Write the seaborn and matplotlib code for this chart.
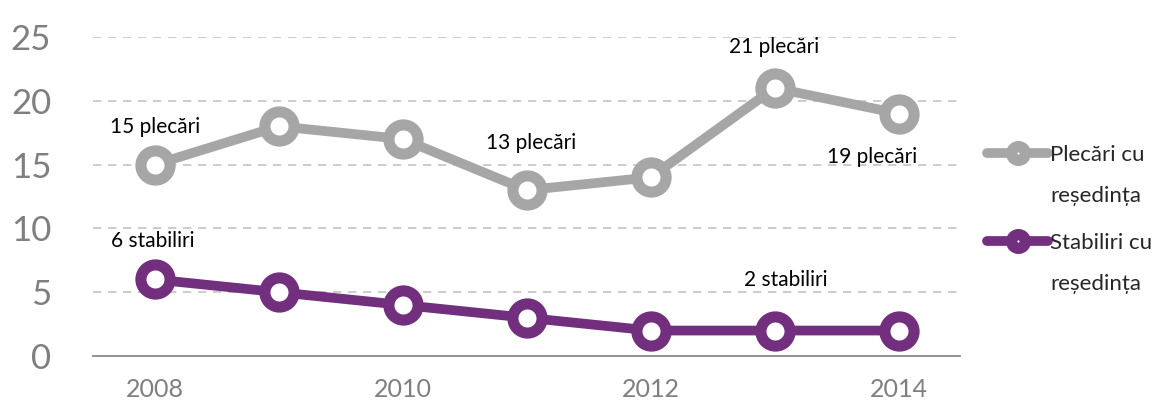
import matplotlib
matplotlib.use("Agg")
from matplotlib import pyplot as plt
from matplotlib.lines import Line2D
import pandas as pd
import seaborn as sb

years = [2008, 2009, 2010, 2011, 2012, 2013, 2014]
plecari = [15, 18, 17, 13, 14, 21, 19]
stabiliri = [6, 5, 4, 3, 2, 2, 2]
series_names = ["Plecări cu\nreședința", "Stabiliri cu\nreședința"]
colors = ["#a6a6a6", "#722f7e"]

# (series index, year, text, offset in pixels)
labels = [
    (0, 2008, "15 plecări", (0, 38)),
    (0, 2011, "13 plecări", (4, 47)),
    (0, 2013, "21 plecări", (0, 41)),
    (0, 2014, "19 plecări", (-26, -43)),
    (1, 2008, "6 stabiliri", (-2, 38)),
    (1, 2013, "2 stabiliri", (11, 51)),
]

sb.set_style("white")
plt.rcParams["font.family"] = ["Lato", "DejaVu Sans"]

data = pd.DataFrame({"year": years * 2,
                     "value": plecari + stabiliri,
                     "series": [series_names[0]] * 7 + [series_names[1]] * 7})

fig = plt.figure(figsize=(11.6, 4.15), dpi=100)
ax = fig.add_axes([0.080, 0.142, 0.748, 0.769])

sb.lineplot(data=data, x="year", y="value", hue="series", palette=colors,
            linewidth=7, marker="o", ax=ax, legend=False, clip_on=False, zorder=3)
# seaborn sets its own marker look, so fix it afterwards
for line, c in zip(ax.lines, colors):
    line.set_markersize(21)
    line.set_markeredgewidth(8)
    line.set_markeredgecolor(c)
    line.set_markerfacecolor("white")

ax.set_xlim(2007.5, 2014.5)
ax.set_ylim(0, 25)
ax.set_yticks([0, 5, 10, 15, 20, 25])
ax.set_xticks([2008, 2010, 2012, 2014])
ax.set_xlabel("")
ax.set_ylabel("")
ax.tick_params(axis="y", labelsize=25, colors="#7f7f7f", length=0, pad=30)
ax.tick_params(axis="x", labelsize=18, colors="#7f7f7f", length=0, pad=16)

for y in [5, 10, 15, 20, 25]:
    ax.axhline(y, color="#c4c4c4", lw=1.2, ls=(0, (5, 4)), zorder=1)
for s in ["top", "left", "right"]:
    ax.spines[s].set_visible(False)
ax.spines["bottom"].set_color("#888888")
ax.spines["bottom"].set_linewidth(1.3)

vals = [plecari, stabiliri]
for si, yr, txt, off in labels:
    ax.annotate(txt, (yr, vals[si][years.index(yr)]), xytext=off,
                textcoords="offset pixels", ha="center", va="center",
                fontsize=15, color="black")

# legend: handle sits next to the first line of each label, second line below
handles = [Line2D([], [], color=c, lw=7, marker="o", markersize=10,
                  markeredgewidth=8, markerfacecolor="white", markeredgecolor=c)
           for c in colors]
first_lines = [n.split("\n")[0] for n in series_names]
leg = fig.legend(handles, first_lines, loc="upper left", bbox_to_anchor=(0.851, 0.65),
                 frameon=False, fontsize=16, handlelength=2.75, handletextpad=0.1,
                 labelspacing=3.05, borderaxespad=0, borderpad=0)
fig.canvas.draw()
inv = fig.transFigure.inverted()
for t, n in zip(leg.get_texts(), series_names):
    bb = t.get_window_extent()
    x0, y0 = inv.transform((bb.x0, bb.y0))
    fig.text(x0, y0 - 0.05, n.split("\n")[1], fontsize=16, ha="left", va="top")

fig.savefig("out.png", dpi=100)
